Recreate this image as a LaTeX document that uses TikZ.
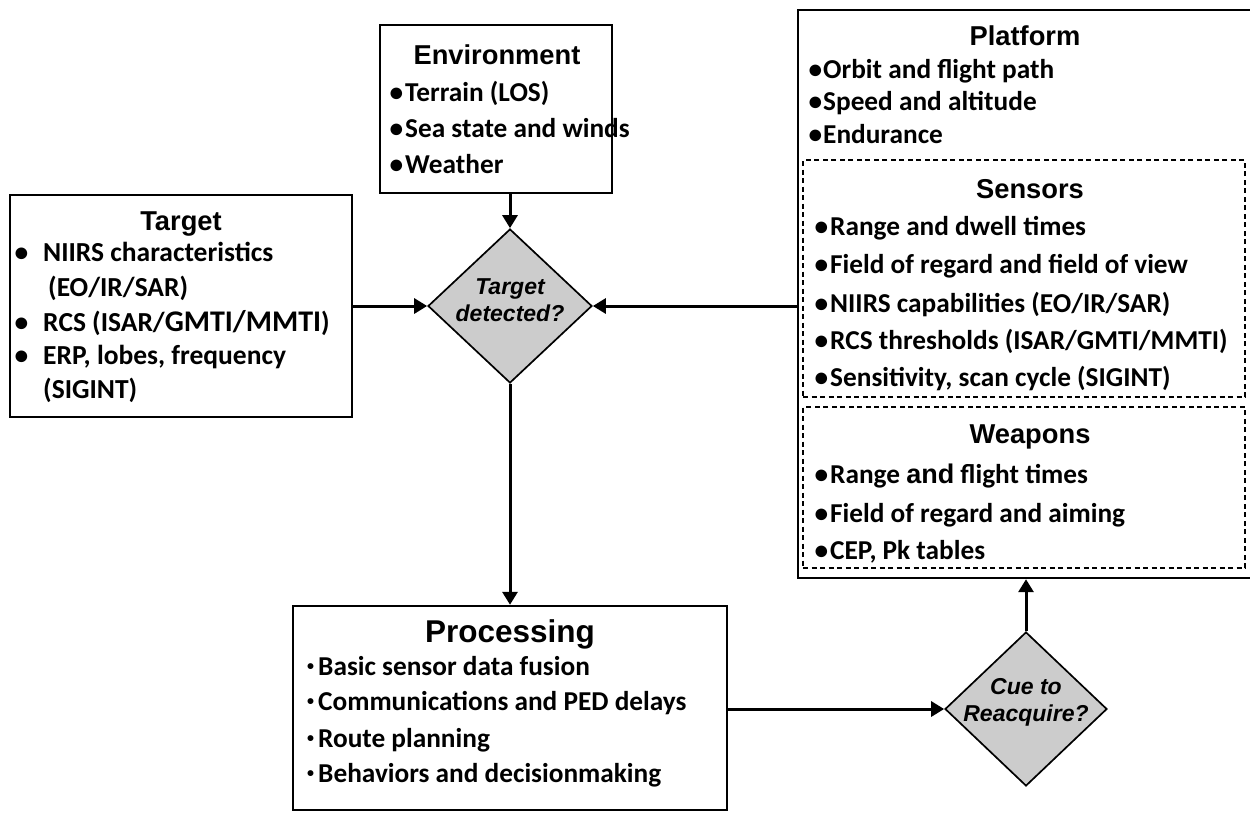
\documentclass[tikz,border=0pt]{standalone}
\usepackage{fontspec}
\setmainfont{Carlito}
\newfontfamily\arialf{Liberation Sans}
\usetikzlibrary{shapes.geometric,arrows.meta}
\begin{document}
\begin{tikzpicture}[x=1pt,y=-1pt,
  box/.style={draw, line width=2.4pt, inner sep=0pt},
  dbox/.style={draw, dash pattern=on 5pt off 3.5pt, line width=1.3pt, inner sep=0pt},
  dec/.style={diamond, draw, fill=black!20, line width=1.7pt, inner sep=0pt},
  arr/.style={line width=3pt, -{Triangle[length=13pt,width=15pt]}},
  head/.style={anchor=base, inner sep=0pt, font=\arialf\bfseries\fontsize{27.3}{27.3}\selectfont},
  phead/.style={anchor=base, inner sep=0pt, font=\arialf\bfseries\fontsize{31.5}{31.5}\selectfont},
  item/.style={anchor=base west, inner sep=0pt, font=\bfseries\fontsize{27.3}{27.3}\selectfont},
  titem/.style={anchor=base west, inner sep=0pt, font=\bfseries\fontsize{27.5}{27.5}\selectfont},
  dtext/.style={align=center, inner sep=0pt, font=\arialf\bfseries\itshape\fontsize{23}{27}\selectfont}
]
\path[use as bounding box, fill=white] (0,0) rectangle (1250,812);

% boxes
\node[box, minimum width=232pt, minimum height=168pt] (env) at (496,109) {};
\node[box, minimum width=342pt, minimum height=222pt] (tg) at (181,306) {};
\node[box, minimum width=453pt, minimum height=568pt] (plat) at (1024.5,294) {};
\node[dbox, minimum width=442pt, minimum height=237pt] (sens) at (1024,278.5) {};
\node[dbox, minimum width=442pt, minimum height=161pt] (weap) at (1024,487.5) {};
\node[box, minimum width=434pt, minimum height=204pt] (proc) at (510,708) {};
\node[dec, minimum width=164pt, minimum height=154pt] (dt) at (510,306) {};
\node[dec, minimum width=162pt, minimum height=154pt] (cue) at (1026,709) {};

% diamond texts
\node[dtext] (dtt) at (510,300) {Target\\detected?};
\node[dtext] (cuet) at (1026,702) {Cue to\\Reacquire?};

% Environment
\node[head] (envh) at (497,64) {Environment};
\node[item] (e1) at (405,101) {\llap{\textbullet\hspace{2pt}}Terrain (LOS)};
\node[item] (e2) at (405,137) {\llap{\textbullet\hspace{2pt}}Sea state and winds};
\node[item] (e3) at (405,173) {\llap{\textbullet\hspace{2pt}}Weather};

% Target
\node[head] (tgh) at (181,230) {Target};
\node[titem] (t1) at (43,261) {\llap{\textbullet\hspace{15pt}}NIIRS characteristics};
\node[titem] (t2) at (48,296) {(EO/IR/SAR)};
\node[titem] (t3) at (43,331) {\llap{\textbullet\hspace{15pt}}RCS (ISAR/{\fontsize{30}{30}\selectfont GMTI/MMTI})};
\node[titem] (t4) at (43,364) {\llap{\textbullet\hspace{15pt}}ERP, lobes, frequency};
\node[titem] (t5) at (43,398) {(SIGINT)};

% Platform
\node[head] (plh) at (1025,45) {Platform};
\node[item] (p1) at (823,78) {\llap{\textbullet\hspace{1pt}}Orbit and flight path};
\node[item] (p2) at (823,110) {\llap{\textbullet\hspace{1pt}}Speed and altitude};
\node[item] (p3) at (823,143) {\llap{\textbullet\hspace{1pt}}Endurance};

% Sensors
\node[head] (seh) at (1030,198) {Sensors};
\node[item] (s1) at (830,235) {\llap{\textbullet\hspace{2pt}}Range and dwell times};
\node[item] (s2) at (830,273) {\llap{\textbullet\hspace{2pt}}Field of regard and field of view};
\node[item] (s3) at (830,312) {\llap{\textbullet\hspace{2pt}}NIIRS capabilities (EO/IR/SAR)};
\node[item] (s4) at (830,349) {\llap{\textbullet\hspace{2pt}}RCS thresholds (ISAR/GMTI/MMTI)};
\node[item] (s5) at (830,386) {\llap{\textbullet\hspace{2pt}}Sensitivity, scan cycle (SIGINT)};

% Weapons
\node[head] (weh) at (1030,443) {Weapons};
\node[item] (w1) at (830,483) {\llap{\textbullet\hspace{2pt}}Range {\arialf\fontsize{27}{27}\selectfont and} flight times};
\node[item] (w2) at (830,522) {\llap{\textbullet\hspace{2pt}}Field of regard and aiming};
\node[item] (w3) at (830,559) {\llap{\textbullet\hspace{2pt}}CEP, Pk tables};

% Processing
\node[phead] (prh) at (510,642) {Processing};
\node[item] (r1) at (318,675) {\llap{\raisebox{5pt}{\fontsize{14}{14}\selectfont\textbullet}\hspace{4pt}}Basic sensor data fusion};
\node[item] (r2) at (318,710) {\llap{\raisebox{5pt}{\fontsize{14}{14}\selectfont\textbullet}\hspace{4pt}}Communications and PED delays};
\node[item] (r3) at (318,747) {\llap{\raisebox{5pt}{\fontsize{14}{14}\selectfont\textbullet}\hspace{4pt}}Route planning};
\node[item] (r4) at (318,782) {\llap{\raisebox{5pt}{\fontsize{14}{14}\selectfont\textbullet}\hspace{4pt}}Behaviors and decisionmaking};

% connectors
\draw[arr] (dt.north |- env.south) -- (dt.north);
\draw[arr] (tg.east |- dt.west) -- (dt.west);
\draw[arr] (plat.west |- dt.east) -- (dt.east);
\draw[arr] (dt.south) -- (dt.south |- proc.north);
\draw[arr] (proc.east |- cue.west) -- (cue.west);
\draw[arr] (cue.north) -- (cue.north |- plat.south);
\end{tikzpicture}
\end{document}
